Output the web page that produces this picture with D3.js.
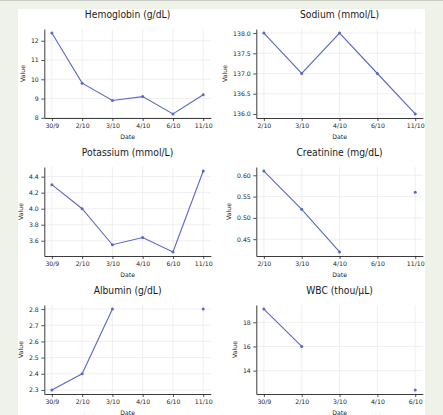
<!DOCTYPE html>
<html>
<head>
<meta charset="utf-8">
<title>Lab results</title>
<script src="https://d3js.org/d3.v7.min.js"></script>
<style>
  body { margin: 0; }
  svg { display: block; }
</style>
</head>
<body>
<script>
// dates of each panel
var datesA = ["30/9", "2/10", "3/10", "4/10", "6/10", "11/10"];
var datesB = ["2/10", "3/10", "4/10", "6/10", "11/10"];
var datesC = ["30/9", "2/10", "3/10", "4/10", "6/10"];

// values (null = no measurement)
var hemoglobin = [12.4, 9.8, 8.9, 9.1, 8.2, 9.2];
var sodium = [138.0, 137.0, 138.0, 137.0, 136.0];
var potassium = [4.3, 4.0, 3.55, 3.64, 3.46, 4.47];
var creatinine = [0.61, 0.52, 0.42, null, 0.56];
var albumin = [2.3, 2.4, 2.8, null, null, 2.8];
var wbc = [19.1, 16.0, null, null, 12.4];

// y tick labels
var hemoglobinTicks = [8, 9, 10, 11, 12];
var sodiumTicks = [136.0, 136.5, 137.0, 137.5, 138.0];
var potassiumTicks = [3.6, 3.8, 4.0, 4.2, 4.4];
var creatinineTicks = [0.45, 0.50, 0.55, 0.60];
var albuminTicks = [2.3, 2.4, 2.5, 2.6, 2.7, 2.8];
var wbcTicks = [14, 16, 18];

var charts = [
  {title: "Hemoglobin (g/dL)", dates: datesA, values: hemoglobin, ticks: hemoglobinTicks, fmt: "d"},
  {title: "Sodium (mmol/L)", dates: datesB, values: sodium, ticks: sodiumTicks, fmt: ".1f"},
  {title: "Potassium (mmol/L)", dates: datesA, values: potassium, ticks: potassiumTicks, fmt: ".1f"},
  {title: "Creatinine (mg/dL)", dates: datesB, values: creatinine, ticks: creatinineTicks, fmt: ".2f"},
  {title: "Albumin (g/dL)", dates: datesA, values: albumin, ticks: albuminTicks, fmt: ".1f"},
  {title: "WBC (thou/\u00b5L)", dates: datesC, values: wbc, ticks: wbcTicks, fmt: "d"}
];

var svgWidth = 443,
    svgHeight = 415;

var lineColor = "#5b6abf",
    inkColor = "#262626",
    gridColor = "#ebebf0";

var svg = d3.select("body")
  .append("svg")
  .attr("width", svgWidth)
  .attr("height", svgHeight)
  .style("font-family", "'DejaVu Sans', sans-serif");

// page background and the white sheet the charts sit on
svg.append("rect")
  .attr("width", svgWidth)
  .attr("height", svgHeight)
  .attr("fill", "#eef2e8");

svg.append("line")
  .attr("x1", 0).attr("x2", svgWidth)
  .attr("y1", 0.5).attr("y2", 0.5)
  .attr("stroke", "#c9ccc4");

svg.append("clipPath")
  .attr("id", "sheet")
  .append("rect")
  .attr("x", 18).attr("y", 9)
  .attr("width", 407).attr("height", 406);

var sheet = svg.append("g").attr("clip-path", "url(#sheet)");

sheet.append("rect")
  .attr("x", 18).attr("y", 9)
  .attr("width", 407).attr("height", 406)
  .attr("fill", "#fff");

// grid of panels: 2 columns, 3 rows
var colLeft = [44.3, 256.3],
    rowTop = [29, 167, 305],
    plotW = 166.5,
    plotH = 89;

charts.forEach(function(c, i) {
  drawChart(c, colLeft[i % 2], rowTop[Math.floor(i / 2)]);
});

function drawChart(c, left, top) {
  var g = sheet.append("g")
    .attr("transform", "translate(" + left + "," + top + ")");

  var n = c.dates.length;

  // categorical x with 5% margins each side
  var x = d3.scalePoint()
    .domain(c.dates)
    .range([0, plotW])
    .padding(0.05 * (n - 1));

  var vals = c.values.filter(function(v) { return v != null; });
  var lo = d3.min(vals), hi = d3.max(vals), pad = (hi - lo) * 0.05;
  var y = d3.scaleLinear()
    .domain([lo - pad, hi + pad])
    .range([plotH, 0]);

  // grid
  g.append("g").selectAll("line")
    .data(c.ticks)
    .join("line")
    .attr("x1", 0).attr("x2", plotW)
    .attr("y1", function(d) { return y(d); })
    .attr("y2", function(d) { return y(d); })
    .attr("stroke", gridColor)
    .attr("stroke-width", 0.8);

  g.append("g").selectAll("line")
    .data(c.dates)
    .join("line")
    .attr("x1", function(d) { return x(d); })
    .attr("x2", function(d) { return x(d); })
    .attr("y1", 0).attr("y2", plotH)
    .attr("stroke", gridColor)
    .attr("stroke-width", 0.8);

  var xAxis = d3.axisBottom(x).tickSize(3).tickPadding(2.5).tickSizeOuter(0);
  var yAxis = d3.axisLeft(y)
    .tickValues(c.ticks)
    .tickFormat(d3.format(c.fmt))
    .tickSize(3).tickPadding(2.5).tickSizeOuter(0);

  var gx = g.append("g")
    .attr("transform", "translate(0," + plotH + ")")
    .call(xAxis);

  var gy = g.append("g").call(yAxis);

  [gx, gy].forEach(function(a) {
    a.attr("font-family", null).attr("font-size", null);
    a.selectAll("text").attr("fill", inkColor).style("font-size", "6.2px");
    a.selectAll("line").attr("stroke", inkColor).attr("stroke-width", 0.8);
    a.select(".domain").attr("stroke", inkColor).attr("stroke-width", 0.9);
  });

  // line with gaps, dots on every value
  var line = d3.line()
    .defined(function(d) { return d != null; })
    .x(function(d, i) { return x(c.dates[i]); })
    .y(function(d) { return y(d); });

  g.append("path")
    .datum(c.values)
    .attr("fill", "none")
    .attr("stroke", lineColor)
    .attr("stroke-width", 1.1)
    .attr("d", line);

  g.append("g").selectAll("circle")
    .data(c.values.map(function(v, i) { return {date: c.dates[i], value: v}; })
      .filter(function(d) { return d.value != null; }))
    .join("circle")
    .attr("cx", function(d) { return x(d.date); })
    .attr("cy", function(d) { return y(d.value); })
    .attr("r", 1.5)
    .attr("fill", lineColor);

  // labels
  var maxW = d3.max(gy.selectAll("text").nodes(), function(t) { return t.getBBox().width; });

  g.append("text")
    .attr("transform", "translate(" + (-5.5 - maxW - 8.5) + "," + (plotH / 2) + ") rotate(-90)")
    .attr("dy", "0.35em")
    .attr("text-anchor", "middle")
    .attr("fill", inkColor)
    .style("font-size", "6.2px")
    .text("Value");

  g.append("text")
    .attr("x", plotW / 2)
    .attr("y", plotH + 18.7)
    .attr("dy", "0.35em")
    .attr("text-anchor", "middle")
    .attr("fill", inkColor)
    .style("font-size", "6.2px")
    .text("Date");

  // title glyphs are a bit taller than wide in the source
  g.append("text")
    .attr("transform", "translate(" + (plotW / 2) + ",-11) scale(1,1.2)")
    .attr("text-anchor", "middle")
    .attr("fill", "#1a1a1a")
    .style("font-size", "9.2px")
    .text(c.title);
}
</script>
</body>
</html>
